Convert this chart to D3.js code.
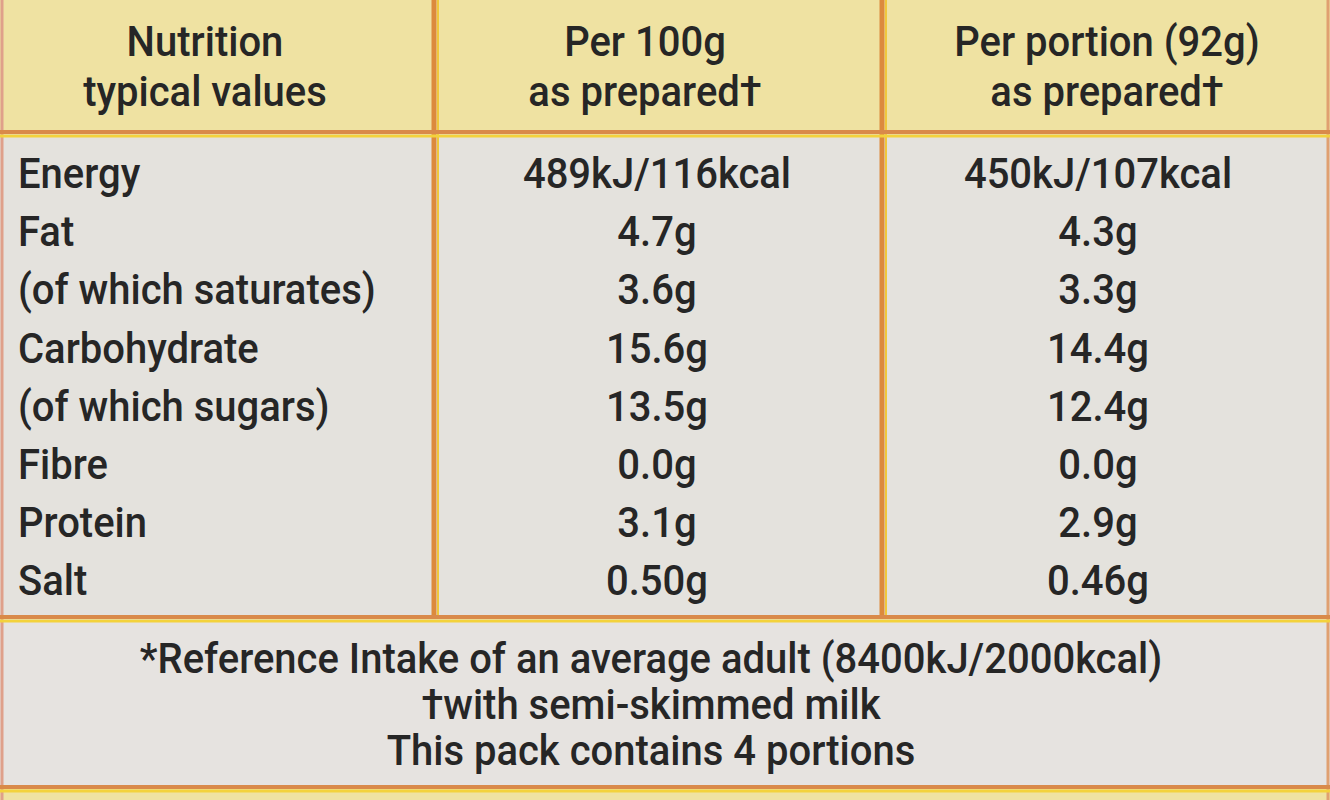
<!DOCTYPE html>
<html><head><meta charset="utf-8">
<script src="https://cdn.jsdelivr.net/npm/d3@7"></script>
<style>body{margin:0;background:#e5e3de}</style></head>
<body><svg id="c" width="1330" height="800"></svg>
<script>
const headers = [["Nutrition","typical values"],["Per 100g","as prepared†"],["Per portion (92g)","as prepared†"]];
const nutrients = ["Energy","Fat","(of which saturates)","Carbohydrate","(of which sugars)","Fibre","Protein","Salt"];
const per100 = ["489kJ/116kcal","4.7g","3.6g","15.6g","13.5g","0.0g","3.1g","0.50g"];
const perPortion = ["450kJ/107kcal","4.3g","3.3g","14.4g","12.4g","0.0g","2.9g","0.46g"];
const footer = ["*Reference Intake of an average adult (8400kJ/2000kcal)","†with semi-skimmed milk","This pack contains 4 portions"];

const svg = d3.select("#c");
const font = "Roboto, 'Liberation Sans', sans-serif";
const txt = "#262626";
svg.append("rect").attr("x",0).attr("y",0).attr("width",1330).attr("height",134).attr("fill","#efe2a2");
svg.append("rect").attr("x",0).attr("y",134).attr("width",1330).attr("height",484).attr("fill","#e4e2dd");
svg.append("rect").attr("x",0).attr("y",618).attr("width",1330).attr("height",170).attr("fill","#e6e3e0");
svg.append("rect").attr("x",0).attr("y",788).attr("width",1330).attr("height",12).attr("fill","#efe2a2");
function hline(y){
  svg.append("line").attr("x1",0).attr("x2",1330).attr("y1",y).attr("y2",y).attr("stroke","#d98a4a").attr("stroke-width",4);
  svg.append("line").attr("x1",0).attr("x2",1330).attr("y1",y+4).attr("y2",y+4).attr("stroke","#f3d23c").attr("stroke-width",3);
}
[434,882].forEach(x=>{
  svg.append("line").attr("x1",x).attr("x2",x).attr("y1",0).attr("y2",618).attr("stroke","#dc8a3c").attr("stroke-width",5);
  svg.append("line").attr("x1",x+4).attr("x2",x+4).attr("y1",0).attr("y2",618).attr("stroke","#f0c83c").attr("stroke-width",2);
});
svg.append("line").attr("x1",2).attr("x2",2).attr("y1",0).attr("y2",800).attr("stroke","#dfa08a").attr("stroke-width",3);
svg.append("line").attr("x1",1328).attr("x2",1328).attr("y1",0).attr("y2",800).attr("stroke","#e0a070").attr("stroke-width",3);
hline(132); hline(617); hline(787);

const fs = 40;
function T(sel){ return sel.attr("font-family",font).attr("font-size",fs).attr("font-weight",500).attr("fill",txt)
  .attr("transform-origin","center").style("transform-box","fill-box").style("transform","scaleY(1.08)"); }
const hx = [205,645,1107];
headers.forEach((h,i)=>h.forEach((t,j)=>{
  T(svg.append("text").attr("x",hx[i]).attr("y",55+j*50).attr("text-anchor","middle")).text(t);
}));
const y = d3.scaleBand().domain(nutrients).range([145,610]);
const g = svg.append("g");
T(g.selectAll(".n").data(nutrients).join("text").attr("x",18).attr("y",d=>y(d)+y.bandwidth()/2+13)).text(d=>d);
T(g.selectAll(".a").data(per100).join("text").attr("x",657).attr("text-anchor","middle").attr("y",(d,i)=>y(nutrients[i])+y.bandwidth()/2+13)).text(d=>d);
T(g.selectAll(".b").data(perPortion).join("text").attr("x",1098).attr("text-anchor","middle").attr("y",(d,i)=>y(nutrients[i])+y.bandwidth()/2+13)).text(d=>d);
T(svg.selectAll(".f").data(footer).join("text").attr("x",651).attr("text-anchor","middle").attr("y",(d,i)=>672+i*46)).text(d=>d);
</script></body></html>
